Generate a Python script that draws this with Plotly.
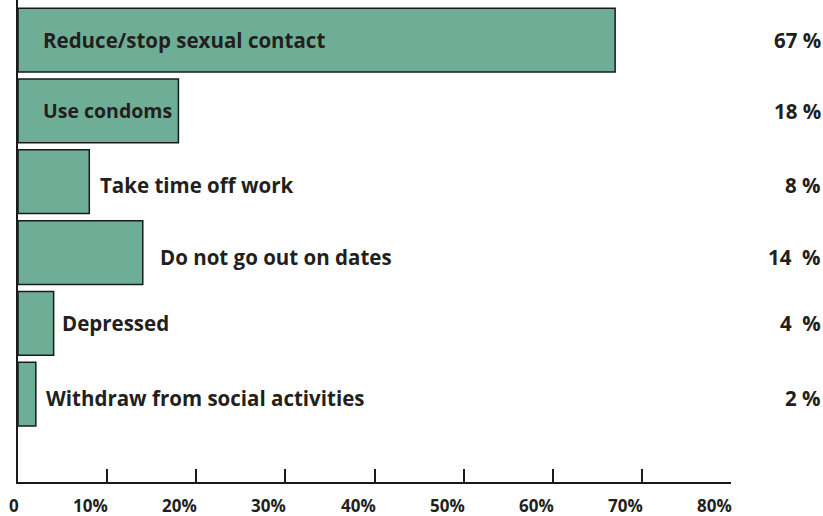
import plotly.graph_objects as go

# Survey responses: reported change in behaviour
categories = [
    "Reduce/stop sexual contact",
    "Use condoms",
    "Take time off work",
    "Do not go out on dates",
    "Depressed",
    "Withdraw from social activities",
]
values = [67, 18, 8, 14, 4, 2]
value_labels = ["67 %", "18 %", "8 %", "14  %", "4  %", "2 %"]
tick_values = [0, 10, 20, 30, 40, 50, 60, 70, 80]
tick_labels = ["0", "10%", "20%", "30%", "40%", "50%", "60%", "70%", "80%"]

FONT = "Open Sans"
INK = "#231f20"
FILL = "#6fae96"

# labels sit inside the two longest bars, just past the end of the others
label_inside = [True, True, False, False, False, False]
label_gap = [0, 0, 11, 17, 8, 10]
label_dy = [0, 0, -3, -4, 0, -4]
label_size = [20.5, 19.5, 20.5, 20.5, 20.5, 20.5]

ypos = list(range(len(categories)))

fig = go.Figure()
fig.add_trace(go.Bar(
    x=values,
    y=ypos,
    orientation="h",
    width=0.9,
    marker=dict(color=FILL, line=dict(color="#1a1a1a", width=1.5)),
    hoverinfo="skip",
))

annotations = []
for i, (cat, v) in enumerate(zip(categories, values)):
    if label_inside[i]:
        annotations.append(dict(
            x=0, y=i, xref="x", yref="y", text=f"<b>{cat}</b>",
            xanchor="left", yanchor="middle", xshift=23, yshift=label_dy[i],
            showarrow=False, font=dict(family=FONT, size=label_size[i], color=INK)))
    else:
        annotations.append(dict(
            x=v, y=i, xref="x", yref="y", text=f"<b>{cat}</b>",
            xanchor="left", yanchor="middle", xshift=label_gap[i] - 2, yshift=label_dy[i],
            showarrow=False, font=dict(family=FONT, size=label_size[i], color=INK)))
    annotations.append(dict(
        x=1.0, y=i, xref="paper", yref="y", text=f"<b>{value_labels[i]}</b>",
        xanchor="right", yanchor="middle", xshift=92, yshift=label_dy[i],
        showarrow=False, font=dict(family=FONT, size=20.5, color=INK)))

# tick labels set flush right against their tick marks
for tv, tl in zip(tick_values, tick_labels):
    annotations.append(dict(
        x=tv, y=0, xref="x", yref="paper", text=f"<b>{tl}</b>",
        xanchor="right", yanchor="middle", xshift=2, yshift=-23, borderpad=0,
        showarrow=False, font=dict(family=FONT, size=17, color=INK)))

fig.update_layout(
    width=823, height=516,
    margin=dict(l=18, r=92, t=0, b=34),
    paper_bgcolor="white", plot_bgcolor="white",
    showlegend=False,
    bargap=0.1,
    annotations=annotations,
    xaxis=dict(
        range=[0, 80], tickvals=tick_values, showticklabels=False,
        ticks="inside", ticklen=13, tickwidth=1.5, tickcolor="#1a1a1a",
        showline=True, linecolor="#1a1a1a", linewidth=2,
        showgrid=False, zeroline=False, fixedrange=True,
    ),
    yaxis=dict(
        range=[6.24, -0.565], showticklabels=False, ticks="",
        showline=True, linecolor="#1a1a1a", linewidth=2,
        showgrid=False, zeroline=False, fixedrange=True,
    ),
)

fig.write_html("out.html")
